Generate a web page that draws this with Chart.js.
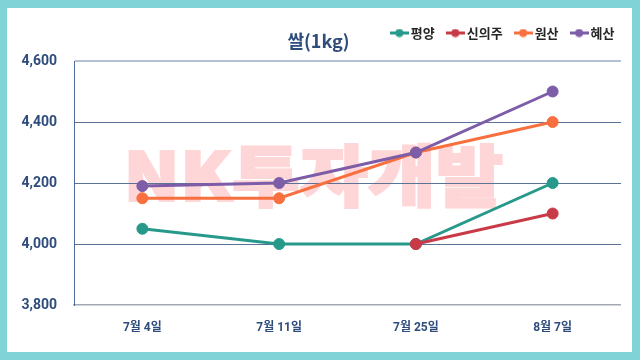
<!DOCTYPE html>
<html>
<head>
<meta charset="utf-8">
<script src="https://cdn.jsdelivr.net/npm/chart.js@4"></script>
<style>
  html, body { margin: 0; padding: 0; }
  body { width: 640px; height: 360px; background: #80d4d7; position: relative; overflow: hidden; }
  #wrap { position: absolute; left: 7px; top: 8px; width: 625px; height: 344px; background: #ffffff; }
  canvas { display: block; }
</style>
</head>
<body>
<div id="wrap"><canvas id="c" width="625" height="344"></canvas></div>
<script>
const categories = ['7월 4일', '7월 11일', '7월 25일', '8월 7일'];
const seriesNames = ['평양', '신의주', '원산', '혜산'];
const pyongyang = [4050, 4000, 4000, 4200];
const sinuiju = [null, null, 4000, 4100];
const wonsan = [4150, 4150, 4300, 4400];
const hyesan = [4190, 4200, 4300, 4500];
const yTicks = [3800, 4000, 4200, 4400, 4600];
const titleText = '쌀(1kg)';
const watermarkText = 'NK투자개발';

const colors = ['#27998a', '#c83a47', '#f8703f', '#7d5ca8'];
const navy = '#2e4c7c';
const seriesValues = [pyongyang, sinuiju, wonsan, hyesan];

function makeMarker(color) {
  const cv = document.createElement('canvas');
  cv.width = 19; cv.height = 9;
  const c = cv.getContext('2d');
  c.strokeStyle = color; c.lineWidth = 3;
  c.beginPath(); c.moveTo(0, 4.5); c.lineTo(19, 4.5); c.stroke();
  c.fillStyle = color;
  c.beginPath(); c.arc(9.5, 4.5, 4, 0, Math.PI * 2); c.fill();
  return cv;
}
const markers = colors.map(makeMarker);

const watermark = {
  id: 'watermark',
  beforeDraw(chart) {
    const ctx = chart.ctx;
    ctx.save();
    ctx.font = '900 80px "Noto Sans CJK KR", sans-serif';
    ctx.textBaseline = 'alphabetic';
    ctx.textAlign = 'left';
    const sw = 2.5;
    const m = ctx.measureText(watermarkText);
    const bw = m.actualBoundingBoxLeft + m.actualBoundingBoxRight + sw;
    const bh = m.actualBoundingBoxAscent + m.actualBoundingBoxDescent + sw;
    const tx = 121, ty = 135, tw = 375, th = 67;
    ctx.translate(tx, ty);
    ctx.scale(tw / bw, th / bh);
    ctx.fillStyle = '#ffd6d7';
    ctx.strokeStyle = '#ffd6d7';
    ctx.lineWidth = sw;
    ctx.lineJoin = 'miter';
    const ox = m.actualBoundingBoxLeft + sw / 2, oy = m.actualBoundingBoxAscent + sw / 2;
    ctx.strokeText(watermarkText, ox, oy);
    ctx.fillText(watermarkText, ox, oy);
    ctx.restore();
  }
};

const datasets = seriesNames.map((name, i) => ({
  label: name,
  data: seriesValues[i],
  yAxisID: 'y',
  borderColor: colors[i],
  backgroundColor: colors[i],
  pointBackgroundColor: colors[i],
  pointBorderColor: colors[i],
  borderWidth: 3,
  pointRadius: 5.5,
  pointBorderWidth: 1,
  tension: 0,
  fill: false,
  order: seriesNames.length - i
}));

new Chart(document.getElementById('c'), {
  type: 'line',
  data: { labels: categories, datasets },
  plugins: [watermark],
  options: {
    responsive: false,
    animation: false,
    devicePixelRatio: 1,
    locale: 'en-US',
    layout: { padding: { top: 3, right: 2, left: 0, bottom: 0 } },
    plugins: {
      tooltip: { enabled: false },
      legend: {
        display: true,
        position: 'top',
        align: 'end',
        weight: 3000,
        labels: {
          usePointStyle: true,
          boxWidth: 10,
          padding: 15.5,
          color: '#262626',
          font: { family: '"Noto Sans CJK KR", sans-serif', size: 13, weight: 'bold' },
          sort: (a, b) => a.datasetIndex - b.datasetIndex,
          generateLabels(chart) {
            const items = Chart.defaults.plugins.legend.labels.generateLabels(chart);
            items.forEach(it => { it.pointStyle = markers[it.datasetIndex]; });
            return items;
          }
        }
      },
      title: {
        display: true,
        text: titleText,
        position: 'top',
        align: 'center',
        weight: 500,
        color: navy,
        font: { family: '"Noto Sans CJK KR", sans-serif', size: 18, weight: 'bold', lineHeight: 1.2 },
        padding: { top: -19.3, bottom: 9.2 }
      }
    },
    scales: {
      x: {
        type: 'category',
        offset: true,
        grid: {
          display: true,
          drawTicks: false,
          color: ctx => ctx.type === 'scale' ? '#b7c2d6' : 'rgba(0,0,0,0)',
          lineWidth: ctx => ctx.type === 'scale' ? 2 : 0
        },
        border: { display: true, color: '#a3a8b2', width: 1.5 },
        ticks: {
          color: navy,
          padding: 16,
          maxRotation: 0,
          font: { family: 'Roboto, "Noto Sans CJK KR", sans-serif', size: 12, weight: 'bold' }
        },
        afterFit(scale) { scale.height = 47; }
      },
      y: {
        type: 'linear',
        position: 'left',
        min: 3800,
        max: 4600,
        afterBuildTicks(scale) { scale.ticks = yTicks.map(v => ({ value: v })); },
        grid: {
          drawTicks: false,
          color: ctx => {
            const v = ctx.tick && ctx.tick.value;
            if (v === 4600) return '#b4c0d4';
            if (v === 3800) return 'rgba(0,0,0,0)';
            return '#5a7397';
          },
          lineWidth: ctx => (ctx.tick && ctx.tick.value === 4600) ? 2 : 1
        },
        border: { display: true, color: '#4d6d9b', width: 1 },
        ticks: {
          color: navy,
          padding: 17,
          font: { family: 'Roboto, "Noto Sans CJK KR", sans-serif', size: 14, weight: 'bold' }
        },
        afterFit(scale) { scale.width = 67; }
      },
      yRight: {
        type: 'linear',
        position: 'right',
        display: true,
        grid: { display: false },
        border: { display: false },
        ticks: { display: false },
        afterFit(scale) { scale.width = 9; }
      }
    }
  }
});
</script>
</body>
</html>
